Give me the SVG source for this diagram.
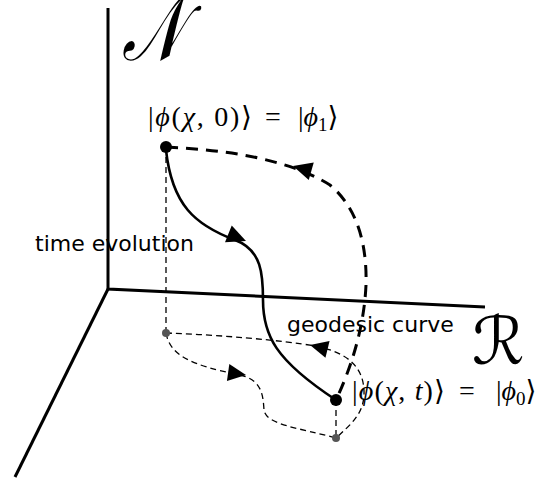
<svg xmlns="http://www.w3.org/2000/svg" width="544" height="480" viewBox="0 0 544 480">
<style>
.axis{fill:none;stroke:#000;stroke-width:3}
.solid{fill:none;stroke:#000;stroke-width:2.6}
.geo{fill:none;stroke:#000;stroke-width:3;stroke-dasharray:12,8}
.thin{fill:none;stroke:#000;stroke-width:1.3;stroke-dasharray:6,4}
.lab{font-family:"DejaVu Sans",sans-serif;font-size:22px;fill:#000}
.math{font-family:"Liberation Serif","DejaVu Serif",serif;font-size:28px;fill:#000}
.it{font-style:italic}
.sub{font-size:19px}
.scr{font-family:"DejaVu Serif","DejaVu Sans",serif;font-style:italic;fill:#000}
</style>
<defs>
<path id="ah" d="M0,0 L-19,-9 L-19,9 Z" fill="#000"/>
</defs>
<g id="axes">
<path class="axis" d="M108,8 V289 L485,307"/>
<path class="axis" d="M108,289 L15,477"/>
</g>
<g id="connectors">
<path class="thin" d="M166,147 V333"/>
<path class="thin" d="M336,400 V438"/>
<path class="thin" d="M166,333 C220,335 280,340 315,346 C345,352 365,365 364,395 C363,415 350,425 336,438"/>
<path class="thin" d="M166,333 C170,355 190,365 240,375 C262,380 263,395 264,410 C266,425 300,428 336,438"/>
<path class="solid" d="M166,150 C172,205 195,225 235,240 C262,250 263,275 263,300 C263,335 275,360 336,400"/>
<path class="geo" d="M166,147 C230,150 290,160 330,185 C360,210 367,250 366,285 C364,330 350,370 336,400"/>
<use href="#ah" transform="translate(246,241) rotate(22)"/>
<use href="#ah" transform="translate(293,166) rotate(196)"/>
<use href="#ah" transform="translate(310,345) rotate(194) scale(0.95)"/>
<use href="#ah" transform="translate(246,375) rotate(8) scale(0.95)"/>
</g>
<g id="phi1">
<circle cx="166" cy="147" r="6" fill="#000"/>
<text class="math" x="148" y="126" textLength="104" lengthAdjust="spacing">|<tspan class="it">ϕ</tspan>(<tspan class="it">χ</tspan>, 0)⟩</text>
<text class="math" x="265" y="126">=</text>
<text class="math" x="298" y="126">|<tspan class="it">ϕ</tspan><tspan class="sub" dy="5">1</tspan><tspan dy="-5">⟩</tspan></text>
</g>
<g id="phi0">
<circle cx="336" cy="400" r="6" fill="#000"/>
<text class="math" x="352" y="400" textLength="93" lengthAdjust="spacing">|<tspan class="it">ϕ</tspan>(<tspan class="it">χ</tspan>, <tspan class="it">t</tspan>)⟩</text>
<text class="math" x="459" y="400">=</text>
<text class="math" x="496" y="400">|<tspan class="it">ϕ</tspan><tspan class="sub" dy="5">0</tspan><tspan dy="-5">⟩</tspan></text>
</g>
<g id="proj1"><circle cx="166" cy="333" r="4" fill="#555"/></g>
<g id="proj0"><circle cx="336" cy="438" r="4" fill="#555"/></g>
<g id="labels">
<text class="lab" x="35" y="251">time evolution</text>
<text class="lab" x="287" y="332">geodesic curve</text>
<text class="scr" font-size="70" transform="translate(122,60) scale(0.92,1.3)">𝒩</text>
<text class="scr" x="472" y="364" font-size="66">ℛ</text>
</g>
</svg>
